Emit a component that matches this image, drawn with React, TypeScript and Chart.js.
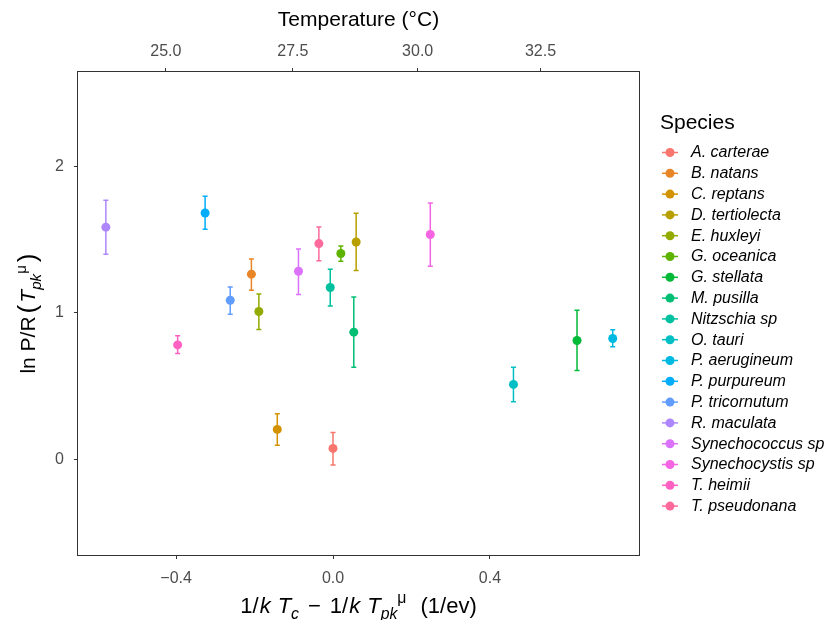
import React, { useEffect, useRef } from "react";
import { Chart, registerables } from "chart.js";

Chart.register(...registerables);

const species = [
  "A. carterae", "B. natans", "C. reptans", "D. tertiolecta", "E. huxleyi",
  "G. oceanica", "G. stellata", "M. pusilla", "Nitzschia sp", "O. tauri",
  "P. aerugineum", "P. purpureum", "P. tricornutum", "R. maculata",
  "Synechococcus sp", "Synechocystis sp", "T. heimii", "T. pseudonana",
];
const xVals = [0.0, -0.208, -0.142, 0.059, -0.189, 0.02, 0.622, 0.053, -0.007, 0.46, 0.713, -0.326, -0.262, -0.579, -0.088, 0.248, -0.396, -0.036];
const yVals = [0.075, 1.265, 0.205, 1.485, 1.01, 1.406, 0.812, 0.869, 1.174, 0.512, 0.826, 1.683, 1.087, 1.586, 1.285, 1.536, 0.782, 1.474];
const yLow = [-0.039, 1.156, 0.096, 1.29, 0.887, 1.354, 0.608, 0.63, 1.048, 0.393, 0.769, 1.572, 0.992, 1.401, 1.126, 1.319, 0.724, 1.356];
const yHigh = [0.184, 1.369, 0.311, 1.681, 1.13, 1.458, 1.019, 1.11, 1.299, 0.63, 0.885, 1.797, 1.178, 1.77, 1.437, 1.752, 0.844, 1.588];

const xTicks = [-0.4, 0.0, 0.4];
const yTicks = [0, 1, 2];
const tempTicks = [25.0, 27.5, 30.0, 32.5];

const BOLTZ = 8.617e-5;
const TPK_K = 301.45;
const tempToX = (t: number) => 1 / (BOLTZ * TPK_K) - 1 / (BOLTZ * (t + 273.15));

const FONT = "'Liberation Sans', Arial, Helvetica, sans-serif";

function hcl(h: number, c: number, l: number): string {
  const Xn = 95.047, Yn = 100, Zn = 108.883;
  const hr = (h * Math.PI) / 180;
  const U = c * Math.cos(hr), V = c * Math.sin(hr);
  const Y = l > 7.999592 ? Yn * Math.pow((l + 16) / 116, 3) : (Yn * l) / 903.3;
  const den = Xn + 15 * Yn + 3 * Zn;
  const un = (4 * Xn) / den, vn = (9 * Yn) / den;
  const u = U / (13 * l) + un, v = V / (13 * l) + vn;
  const X = (9 * Y * u) / (4 * v);
  const Z = (3 * Y) / v - X / 3 - 5 * Y;
  const lin = [
    (3.240479 * X - 1.53715 * Y - 0.498535 * Z) / 100,
    (-0.969256 * X + 1.875992 * Y + 0.041556 * Z) / 100,
    (0.055648 * X - 0.204043 * Y + 1.057311 * Z) / 100,
  ];
  const g = lin.map((q) => {
    const s = q > 0.00304 ? 1.055 * Math.pow(q, 1 / 2.4) - 0.055 : 12.92 * q;
    return Math.round(Math.max(0, Math.min(1, s)) * 255);
  });
  return "#" + g.map((n) => n.toString(16).padStart(2, "0")).join("");
}

const colors = species.map((_, i) => hcl(15 + (360 / species.length) * i, 100, 65));

type Seg = { t: string; it?: boolean; sub?: boolean; sup?: boolean; big?: boolean; gap?: number };

function segFont(s: Seg, size: number) {
  let sz = size;
  if (s.sub || s.sup) sz = size * 0.72;
  if (s.big) sz = size * 1.25;
  return `${s.it ? "italic " : ""}${sz}px ${FONT}`;
}

function drawRich(ctx: CanvasRenderingContext2D, segs: Seg[], cx: number, baseY: number, size: number) {
  let total = 0;
  const widths = segs.map((s) => {
    ctx.font = segFont(s, size);
    const w = ctx.measureText(s.t).width + (s.gap || 0);
    total += w;
    return w;
  });
  let x = cx - total / 2;
  ctx.textAlign = "left";
  ctx.textBaseline = "alphabetic";
  segs.forEach((s, i) => {
    ctx.font = segFont(s, size);
    let y = baseY;
    if (s.sub) y += size * 0.28;
    if (s.sup) y -= size * 0.45;
    if (s.big) y += size * 0.06;
    ctx.fillText(s.t, x, y);
    x += widths[i];
  });
}

const overlayPlugin = {
  id: "overlay",
  beforeDatasetsDraw(chart: any) {
    const ctx = chart.ctx as CanvasRenderingContext2D;
    const xs = chart.scales.x, ys = chart.scales.y;
    ctx.save();
    ctx.lineWidth = 1.5;
    species.forEach((_, i) => {
      const px = xs.getPixelForValue(xVals[i]);
      const p1 = ys.getPixelForValue(yLow[i]);
      const p2 = ys.getPixelForValue(yHigh[i]);
      ctx.strokeStyle = colors[i];
      ctx.beginPath();
      ctx.moveTo(px, p1);
      ctx.lineTo(px, p2);
      ctx.moveTo(px - 2.5, p1);
      ctx.lineTo(px + 2.5, p1);
      ctx.moveTo(px - 2.5, p2);
      ctx.lineTo(px + 2.5, p2);
      ctx.stroke();
    });
    ctx.restore();
  },
  afterDraw(chart: any) {
    const ctx = chart.ctx as CanvasRenderingContext2D;
    const a = chart.chartArea;
    const cx = (a.left + a.right) / 2;
    const cy = (a.top + a.bottom) / 2;
    ctx.save();
    // panel border
    ctx.strokeStyle = "#333333";
    ctx.lineWidth = 1;
    ctx.strokeRect(Math.round(a.left) - 0.5, Math.round(a.top) - 0.5, Math.round(a.right - a.left) + 1, Math.round(a.bottom - a.top) + 1);

    ctx.fillStyle = "#000000";
    // top title
    ctx.font = `21px ${FONT}`;
    ctx.textAlign = "center";
    ctx.textBaseline = "alphabetic";
    ctx.fillText("Temperature (\u00B0C)", cx, 26);

    // bottom title
    drawRich(ctx, [
      { t: "1/", gap: 1 },
      { t: "k", it: true, gap: 7 },
      { t: "T", it: true },
      { t: "c", it: true, sub: true, gap: 9 },
      { t: "\u2212", gap: 9 },
      { t: "1/", gap: 1 },
      { t: "k", it: true, gap: 7 },
      { t: "T", it: true },
      { t: "pk", it: true, sub: true },
      { t: "\u03BC", sup: true, gap: 14 },
      { t: "(1/ev)" },
    ], cx, 613, 22);

    // y title
    ctx.save();
    ctx.translate(35, cy);
    ctx.rotate(-Math.PI / 2);
    drawRich(ctx, [
      { t: "ln P/R", gap: 3 },
      { t: "(", big: true, gap: 2 },
      { t: "T", it: true },
      { t: "pk", it: true, sub: true },
      { t: "\u03BC", sup: true, gap: 3 },
      { t: ")", big: true },
    ], 0, 0, 21);
    ctx.restore();

    // legend
    ctx.fillStyle = "#000000";
    ctx.font = `21px ${FONT}`;
    ctx.textAlign = "left";
    ctx.textBaseline = "middle";
    ctx.fillText("Species", 660, 123);
    species.forEach((s, i) => {
      const y = 152.5 + i * 20.8;
      ctx.strokeStyle = colors[i];
      ctx.lineWidth = 1.5;
      ctx.beginPath();
      ctx.moveTo(662, y);
      ctx.lineTo(678, y);
      ctx.stroke();
      ctx.fillStyle = colors[i];
      ctx.beginPath();
      ctx.arc(670, y, 4.5, 0, Math.PI * 2);
      ctx.fill();
      ctx.fillStyle = "#000000";
      ctx.font = `italic 16px ${FONT}`;
      ctx.fillText(s, 691, y + 0.5);
    });
    ctx.restore();
  },
};

export default function App() {
  const ref = useRef<HTMLCanvasElement | null>(null);
  useEffect(() => {
    document.body.style.margin = "0";
    if (!ref.current) return;
    const tickFont = { size: 16, family: FONT };
    const gridCommon = { drawOnChartArea: false, drawTicks: true, tickLength: 4, color: "#333333", lineWidth: 1 };
    const chart = new Chart(ref.current, {
      type: "scatter",
      data: {
        datasets: species.map((s, i) => ({
          label: s,
          data: [{ x: xVals[i], y: yVals[i] }],
          backgroundColor: colors[i],
          borderColor: colors[i],
          pointRadius: 4.5,
          pointBorderWidth: 0,
          pointHoverRadius: 4.5,
        })),
      },
      options: {
        animation: false,
        responsive: false,
        events: [],
        layout: { padding: { left: 0, top: 0, right: 194, bottom: 0 } },
        plugins: { legend: { display: false }, tooltip: { enabled: false }, title: { display: false } },
        scales: {
          x: {
            type: "linear",
            position: "bottom",
            min: -0.65,
            max: 0.78,
            afterBuildTicks: (ax: any) => { ax.ticks = xTicks.map((v) => ({ value: v })); },
            afterFit: (ax: any) => { ax.height = 65; },
            ticks: {
              color: "#4D4D4D",
              font: tickFont,
              padding: 10,
              maxRotation: 0,
              callback: (v: any) => Number(v).toFixed(1).replace("-", "\u2212"),
            },
            grid: gridCommon,
            border: { display: false },
          },
          x2: {
            type: "linear",
            position: "top",
            min: -0.65,
            max: 0.78,
            afterBuildTicks: (ax: any) => { ax.ticks = tempTicks.map((t) => ({ value: tempToX(t) })); },
            afterFit: (ax: any) => { ax.height = 72; },
            ticks: {
              color: "#4D4D4D",
              font: tickFont,
              padding: 7,
              maxRotation: 0,
              callback: (_v: any, idx: number) => tempTicks[idx].toFixed(1),
            },
            grid: gridCommon,
            border: { display: false },
          },
          y: {
            type: "linear",
            position: "left",
            min: -0.653,
            max: 2.646,
            afterBuildTicks: (ax: any) => { ax.ticks = yTicks.map((v) => ({ value: v })); },
            afterFit: (ax: any) => { ax.width = 78; },
            ticks: {
              color: "#4D4D4D",
              font: tickFont,
              padding: 10,
              callback: (v: any) => String(v),
            },
            grid: gridCommon,
            border: { display: false },
          },
        },
      },
      plugins: [overlayPlugin],
    });
    return () => chart.destroy();
  }, []);
  return <canvas ref={ref} width={833} height={620} style={{ display: "block", width: 833, height: 620 }} />;
}
